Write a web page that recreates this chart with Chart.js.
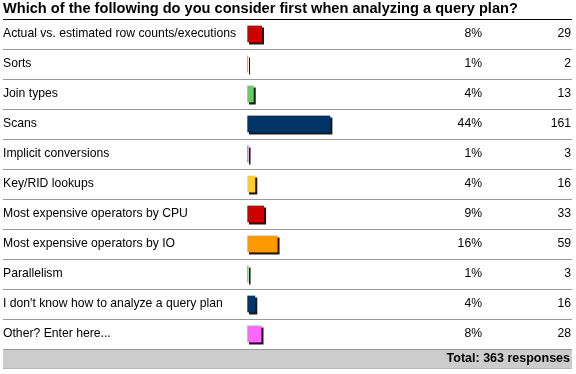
<!DOCTYPE html>
<html>
<head>
<meta charset="utf-8">
<title>Query plan survey</title>
<script src="https://cdn.jsdelivr.net/npm/chart.js@4.4.1/dist/chart.umd.min.js"></script>
<style>
  html, body { margin: 0; padding: 0; background: #fff; }
  #wrap { width: 576px; height: 374px; position: relative; }
</style>
</head>
<body>
<div id="wrap"><canvas id="chart"></canvas></div>
<script>
// data
const titleText = "Which of the following do you consider first when analyzing a query plan?";
const answers = [
    "Actual vs. estimated row counts/executions",
    "Sorts",
    "Join types",
    "Scans",
    "Implicit conversions",
    "Key/RID lookups",
    "Most expensive operators by CPU",
    "Most expensive operators by IO",
    "Parallelism",
    "I don't know how to analyze a query plan",
    "Other? Enter here..."
];
const counts = [29, 2, 13, 161, 3, 16, 33, 59, 3, 16, 28];
const percents = [8, 1, 4, 44, 1, 4, 9, 16, 1, 4, 8];
const totalResponses = 363;
const barColors = ["#cc0000", "#ff9900", "#66cc66", "#003366", "#cc66cc", "#ffcc33",
                   "#cc0000", "#ff9900", "#66cc66", "#003366", "#ff66ff"];
const edgeColors = ["#ee7777", "#ffcc88", "#aaddaa", "#6699cc", "#eeaaee", "#ffe699",
                    "#ee7777", "#ffcc88", "#aaddaa", "#6699cc", "#ffaaff"];

const FONT = "'Liberation Sans', Arial, sans-serif";

// dark shadow to the right and below each bar
const barShadow = {
    id: "barShadow",
    beforeDatasetsDraw(chart) {
        const ctx = chart.ctx;
        const meta = chart.getDatasetMeta(0);
        ctx.save();
        ctx.fillStyle = "#1a1a1a";
        meta.data.forEach(function(bar) {
            const p = bar.getProps(["x", "y", "base", "height"], true);
            const w = Math.max(1, p.x - p.base);
            ctx.fillRect(p.base + 2, p.y - p.height / 2 + 2, w, p.height);
        });
        ctx.restore();
    }
};

// title, row lines, numbers and footer
const tableDecor = {
    id: "tableDecor",
    afterDraw(chart) {
        const ctx = chart.ctx;
        const y = chart.scales.y;
        const left = 3, right = 572;
        ctx.save();

        ctx.fillStyle = "#000";
        ctx.font = "bold 14.6px " + FONT;
        ctx.textAlign = "left";
        ctx.textBaseline = "middle";
        ctx.fillText(titleText, 3, 9);

        ctx.fillStyle = "#000";
        ctx.fillRect(left, 19, right - left, 1);

        ctx.fillStyle = "#999";
        for (let i = 1; i < answers.length; i++) {
            const yy = Math.round((y.getPixelForValue(i - 1) + y.getPixelForValue(i)) / 2);
            ctx.fillRect(left, yy, right - left, 1);
        }

        // footer
        ctx.fillStyle = "#cccccc";
        ctx.fillRect(left, 349, right - left, 20);
        ctx.fillStyle = "#999";
        ctx.fillRect(left, 349, right - left, 1);
        ctx.fillStyle = "#b8b8b8";
        ctx.fillRect(left, 368, right - left, 1);

        ctx.font = "12.2px " + FONT;
        ctx.fillStyle = "#000";
        ctx.textAlign = "right";
        answers.forEach(function(a, i) {
            const yc = y.getPixelForValue(i);
            ctx.fillText(percents[i] + "%", 482, yc);
            ctx.fillText(String(counts[i]), 571, yc);
        });

        ctx.font = "bold 12.5px " + FONT;
        ctx.fillText("Total: " + totalResponses + " responses", 570, 359);
        ctx.restore();
    }
};

new Chart(document.getElementById("chart"), {
    type: "bar",
    data: {
        labels: answers,
        datasets: [{
            data: counts,
            backgroundColor: barColors,
            borderColor: edgeColors,
            borderWidth: { left: 1, right: 0, top: 0, bottom: 0 },
            borderSkipped: false,
            barThickness: 17
        }]
    },
    options: {
        indexAxis: "y",
        responsive: true,
        maintainAspectRatio: false,
        animation: false,
        layout: { padding: { top: 19, bottom: 25, left: 3, right: 141 } },
        plugins: {
            legend: { display: false },
            title: { display: false },
            tooltip: { enabled: false }
        },
        scales: {
            x: { display: false, min: 0, max: totalResponses },
            y: {
                grid: { display: false },
                border: { display: false },
                ticks: {
                    crossAlign: "far",
                    padding: 0,
                    color: "#000",
                    font: { family: FONT, size: 12.2 }
                },
                afterFit: function(scale) { scale.width = 244; }
            }
        }
    },
    plugins: [barShadow, tableDecor]
});
</script>
</body>
</html>
